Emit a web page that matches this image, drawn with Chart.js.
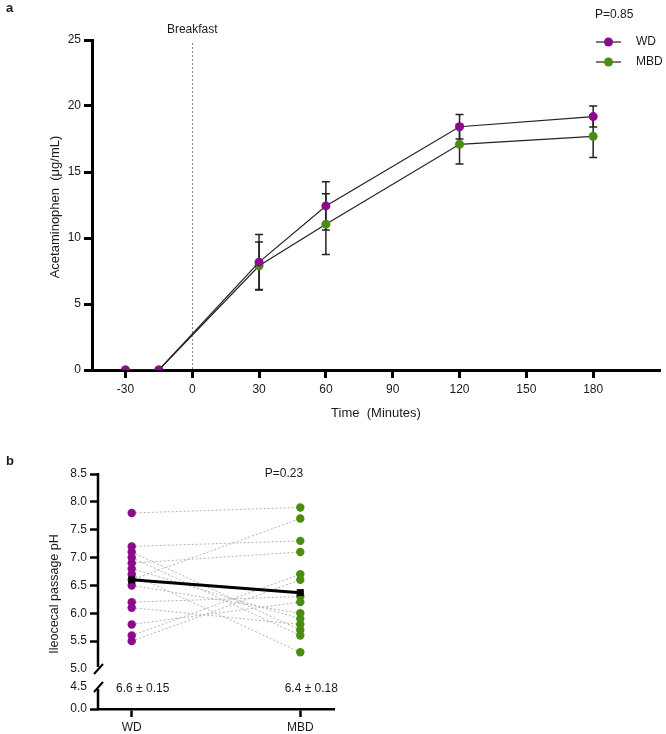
<!DOCTYPE html>
<html>
<head>
<meta charset="utf-8">
<script src="https://cdn.jsdelivr.net/npm/chart.js@4.4.0/dist/chart.umd.min.js"></script>
<style>
  body { margin: 0; background: #fff; }
  #wrap { position: relative; width: 666px; height: 734px; background: #fff; }
  #grafikA { position: absolute; left: 0; top: 0; }
  #grafikB { position: absolute; left: 0; top: 430px; }
</style>
</head>
<body>
<div id="wrap">
  <canvas id="grafikA" width="666" height="430"></canvas>
  <canvas id="grafikB" width="666" height="304"></canvas>
</div>
<script>
// --- panel a verileri ---
const timePoints = [-30, -15, 30, 60, 120, 180];
const xTicksA = [-30, 0, 30, 60, 90, 120, 150, 180];
const yTicksA = [0, 5, 10, 15, 20, 25];
const wdMean = [0, 0, 8.17, 12.43, 18.43, 19.2];
const wdErr = [0, 0, 2.1, 1.83, 0.93, 0.8];
const mbdMean = [0, 0, 7.9, 11.05, 17.1, 17.7];
const mbdErr = [0, 0, 1.8, 2.3, 1.5, 1.6];
const breakfastTime = 0;
const seriesNames = ['WD', 'MBD'];
const seriesColors = ['#8c0a8c', '#4b8c12'];

// --- panel b verileri ---
const groupsB = ['WD', 'MBD'];
const wdPh = [7.8, 7.2, 7.1, 7.0, 6.9, 6.8, 6.7, 6.6, 6.5, 6.2, 6.1, 5.8, 5.6, 5.5];
const mbdPh = [7.9, 7.3, 5.7, 5.6, 7.1, 5.9, 5.3, 7.7, 6.0, 6.3, 5.8, 6.2, 6.7, 6.6];
const meanPh = [6.6, 6.37];
const meanText = ['6.6 \u00b1 0.15', '6.4 \u00b1 0.18'];
const yTicksB = [0, 4.5, 5.0, 5.5, 6.0, 6.5, 7.0, 7.5, 8.0, 8.5];

// kırık eksen: 0-4.5 arası küçük bir parçaya sıkıştırılıyor
const breakTop = 5.0;
const lowTop = 4.677;
const lowBase = 4.282;
function toAxisB(v) {
    if (v >= breakTop) return v;
    return lowBase + (v / 4.5) * (lowTop - lowBase);
}

const FONT = '"Liberation Sans", Arial, sans-serif';
Chart.defaults.font.family = FONT;
Chart.defaults.font.size = 12;
Chart.defaults.color = '#1a1a1a';

function writeText(ctx, txt, x, y, align, font) {
    ctx.save();
    ctx.font = font || ('12px ' + FONT);
    ctx.fillStyle = '#1a1a1a';
    ctx.textAlign = align || 'left';
    ctx.textBaseline = 'middle';
    ctx.fillText(txt, x, y);
    ctx.restore();
}

// Panel a eklentisi: hata çubukları, kahvaltı çizgisi, yazılar
const panelAPlugin = {
    id: 'panelA',
    beforeDatasetsDraw(chart) {
        const ctx = chart.ctx;
        const xs = chart.scales.x, ys = chart.scales.y;
        const area = chart.chartArea;

        // kahvaltı çizgisi
        const bx = Math.round(xs.getPixelForValue(breakfastTime)) + 0.5;
        ctx.save();
        ctx.strokeStyle = '#666';
        ctx.lineWidth = 0.8;
        ctx.setLineDash([2, 2]);
        ctx.beginPath();
        ctx.moveTo(bx, 43);
        ctx.lineTo(bx, area.bottom);
        ctx.stroke();
        ctx.restore();

        // hata çubukları
        const drawErr = function(means, errs) {
            means.forEach(function(m, i) {
                if (!errs[i]) return;
                const x = xs.getPixelForValue(timePoints[i]);
                const yTop = ys.getPixelForValue(m + errs[i]);
                const yBot = ys.getPixelForValue(m - errs[i]);
                ctx.beginPath();
                ctx.moveTo(x, yTop); ctx.lineTo(x, yBot);
                ctx.moveTo(x - 4, yTop); ctx.lineTo(x + 4, yTop);
                ctx.moveTo(x - 4, yBot); ctx.lineTo(x + 4, yBot);
                ctx.stroke();
            });
        };
        ctx.save();
        ctx.strokeStyle = '#222';
        ctx.lineWidth = 1.5;
        drawErr(mbdMean, mbdErr);
        drawErr(wdMean, wdErr);
        ctx.restore();
    },
    afterDraw(chart) {
        const ctx = chart.ctx;
        const xs = chart.scales.x;
        const area = chart.chartArea;
        writeText(ctx, 'a', 6, 8, 'left', 'bold 13px ' + FONT);
        writeText(ctx, 'Breakfast', xs.getPixelForValue(breakfastTime), 30, 'center', '12px ' + FONT);
        writeText(ctx, 'P=0.85', 595, 15, 'left');

        // lejant
        seriesNames.forEach(function(name, i) {
            const y = 42 + i * 20;
            ctx.save();
            ctx.strokeStyle = '#222';
            ctx.lineWidth = 1.2;
            ctx.beginPath();
            ctx.moveTo(596, y); ctx.lineTo(621, y);
            ctx.stroke();
            ctx.fillStyle = seriesColors[i];
            ctx.beginPath();
            ctx.arc(608.5, y, 4.5, 0, Math.PI * 2);
            ctx.fill();
            ctx.restore();
            writeText(ctx, name, 636, y, 'left');
        });

        // eksen başlıkları
        writeText(ctx, 'Time  (Minutes)', (area.left + area.right) / 2, 413, 'center', '13px ' + FONT);
        ctx.save();
        ctx.translate(55, 207);
        ctx.rotate(-Math.PI / 2);
        writeText(ctx, 'Acetaminophen  (\u03bcg/mL)', 0, 0, 'center', '13px ' + FONT);
        ctx.restore();
    }
};

new Chart(document.getElementById('grafikA'), {
    type: 'line',
    data: {
        datasets: [
            {
                label: seriesNames[0],
                data: timePoints.map(function(t, i) { return { x: t, y: wdMean[i] }; }),
                borderColor: '#222',
                borderWidth: 1.2,
                backgroundColor: seriesColors[0],
                pointBackgroundColor: seriesColors[0],
                pointBorderWidth: 0,
                pointRadius: 4.5,
                tension: 0,
                order: 0
            },
            {
                label: seriesNames[1],
                data: timePoints.map(function(t, i) { return { x: t, y: mbdMean[i] }; }),
                borderColor: '#222',
                borderWidth: 1.2,
                backgroundColor: seriesColors[1],
                pointBackgroundColor: seriesColors[1],
                pointBorderWidth: 0,
                pointRadius: 4.5,
                tension: 0,
                order: 1
            }
        ]
    },
    options: {
        responsive: false,
        animation: false,
        layout: { padding: { top: 40, right: 6, left: 0, bottom: 0 } },
        plugins: { legend: { display: false }, tooltip: { enabled: false } },
        scales: {
            x: {
                type: 'linear',
                min: -45,
                max: 210,
                afterBuildTicks: function(scale) {
                    scale.ticks = xTicksA.map(function(v) { return { value: v }; });
                },
                afterFit: function(scale) { scale.height = 60; },
                border: { display: true, color: '#000', width: 3 },
                grid: { display: true, drawOnChartArea: false, drawTicks: true, tickLength: 8, tickWidth: 3, tickColor: '#000' },
                ticks: { padding: 4, maxRotation: 0, callback: function(v) { return v; } }
            },
            y: {
                min: 0,
                max: 25,
                afterBuildTicks: function(scale) {
                    scale.ticks = yTicksA.map(function(v) { return { value: v }; });
                },
                afterFit: function(scale) { scale.width = 92; },
                border: { display: true, color: '#000', width: 3 },
                grid: { display: true, drawOnChartArea: false, drawTicks: true, tickLength: 8, tickWidth: 3, tickColor: '#000' },
                ticks: { padding: 3, callback: function(v) { return v; } }
            }
        }
    },
    plugins: [panelAPlugin]
});

// Panel b eklentisi: kırık y ekseni ve yazılar
const panelBPlugin = {
    id: 'panelB',
    afterDraw(chart) {
        const ctx = chart.ctx;
        const xs = chart.scales.x, ys = chart.scales.y;
        const ax = chart.chartArea.left;
        const y85 = ys.getPixelForValue(toAxisB(8.5));
        const y50 = ys.getPixelForValue(toAxisB(5.0));
        const y45 = ys.getPixelForValue(toAxisB(4.5));
        const y00 = ys.getPixelForValue(toAxisB(0));

        ctx.save();
        ctx.strokeStyle = '#000';
        ctx.lineWidth = 2.5;
        ctx.beginPath();
        ctx.moveTo(ax, y85 - 1); ctx.lineTo(ax, y50 - 2);
        ctx.moveTo(ax, y45 + 2); ctx.lineTo(ax, y00 + 1);
        ctx.stroke();
        ctx.lineWidth = 2;
        ctx.beginPath();
        ctx.moveTo(ax - 4, y50 + 5); ctx.lineTo(ax + 5, y50 - 5);
        ctx.moveTo(ax - 4, y45 + 5); ctx.lineTo(ax + 5, y45 - 5);
        ctx.stroke();
        ctx.restore();

        writeText(ctx, 'b', 6, 31, 'left', 'bold 13px ' + FONT);
        writeText(ctx, 'P=0.23', 284, 44, 'center');
        meanText.forEach(function(t, i) {
            writeText(ctx, t, xs.getPixelForValue(i) + 11, y45 + 2, 'center');
        });

        ctx.save();
        ctx.translate(55, 164);
        ctx.rotate(-Math.PI / 2);
        writeText(ctx, 'Ileocecal passage pH', 0, 0, 'center', '12.5px ' + FONT);
        ctx.restore();
    }
};

const pairDatasets = wdPh.map(function(v, i) {
    return {
        type: 'line',
        data: [{ x: 0, y: toAxisB(v) }, { x: 1, y: toAxisB(mbdPh[i]) }],
        borderColor: '#b3b3b3',
        borderWidth: 1,
        borderDash: [2, 2],
        pointRadius: 0,
        order: 3
    };
});

new Chart(document.getElementById('grafikB'), {
    type: 'scatter',
    data: {
        datasets: pairDatasets.concat([
            {
                type: 'scatter',
                data: wdPh.map(function(v) { return { x: 0, y: toAxisB(v) }; }),
                backgroundColor: seriesColors[0],
                borderWidth: 0,
                pointRadius: 4.2,
                order: 2
            },
            {
                type: 'scatter',
                data: mbdPh.map(function(v) { return { x: 1, y: toAxisB(v) }; }),
                backgroundColor: seriesColors[1],
                borderWidth: 0,
                pointRadius: 4.2,
                order: 2
            },
            {
                type: 'line',
                data: meanPh.map(function(v, i) { return { x: i, y: toAxisB(v) }; }),
                borderColor: '#000',
                borderWidth: 3,
                backgroundColor: '#000',
                pointStyle: 'rect',
                pointRadius: 5,
                pointBorderWidth: 0,
                order: 1
            }
        ])
    },
    options: {
        responsive: false,
        animation: false,
        layout: { padding: { top: 44, right: 332, left: 0, bottom: 0 } },
        plugins: { legend: { display: false }, tooltip: { enabled: false } },
        scales: {
            x: {
                type: 'linear',
                min: -0.2,
                max: 1.2,
                afterBuildTicks: function(scale) {
                    scale.ticks = groupsB.map(function(g, i) { return { value: i }; });
                },
                afterFit: function(scale) { scale.height = 25; },
                border: { display: true, color: '#000', width: 2.5 },
                grid: { display: true, drawOnChartArea: false, drawTicks: true, tickLength: 8, tickWidth: 2.5, tickColor: '#000' },
                ticks: { padding: 3, maxRotation: 0, callback: function(v) { return groupsB[v]; } }
            },
            y: {
                min: lowBase,
                max: 8.5,
                afterBuildTicks: function(scale) {
                    scale.ticks = yTicksB.map(function(v) { return { value: toAxisB(v) }; });
                },
                afterFit: function(scale) { scale.width = 98; },
                border: { display: false },
                grid: {
                    display: true, drawOnChartArea: false, drawTicks: true, tickLength: 8, tickWidth: 2.5,
                    tickColor: function(c) { return (c.index === 1 || c.index === 2) ? 'rgba(0,0,0,0)' : '#000'; }
                },
                ticks: { padding: 3, callback: function(v, i) { return yTicksB[i].toFixed(1); } }
            }
        }
    },
    plugins: [panelBPlugin]
});
</script>
</body>
</html>
